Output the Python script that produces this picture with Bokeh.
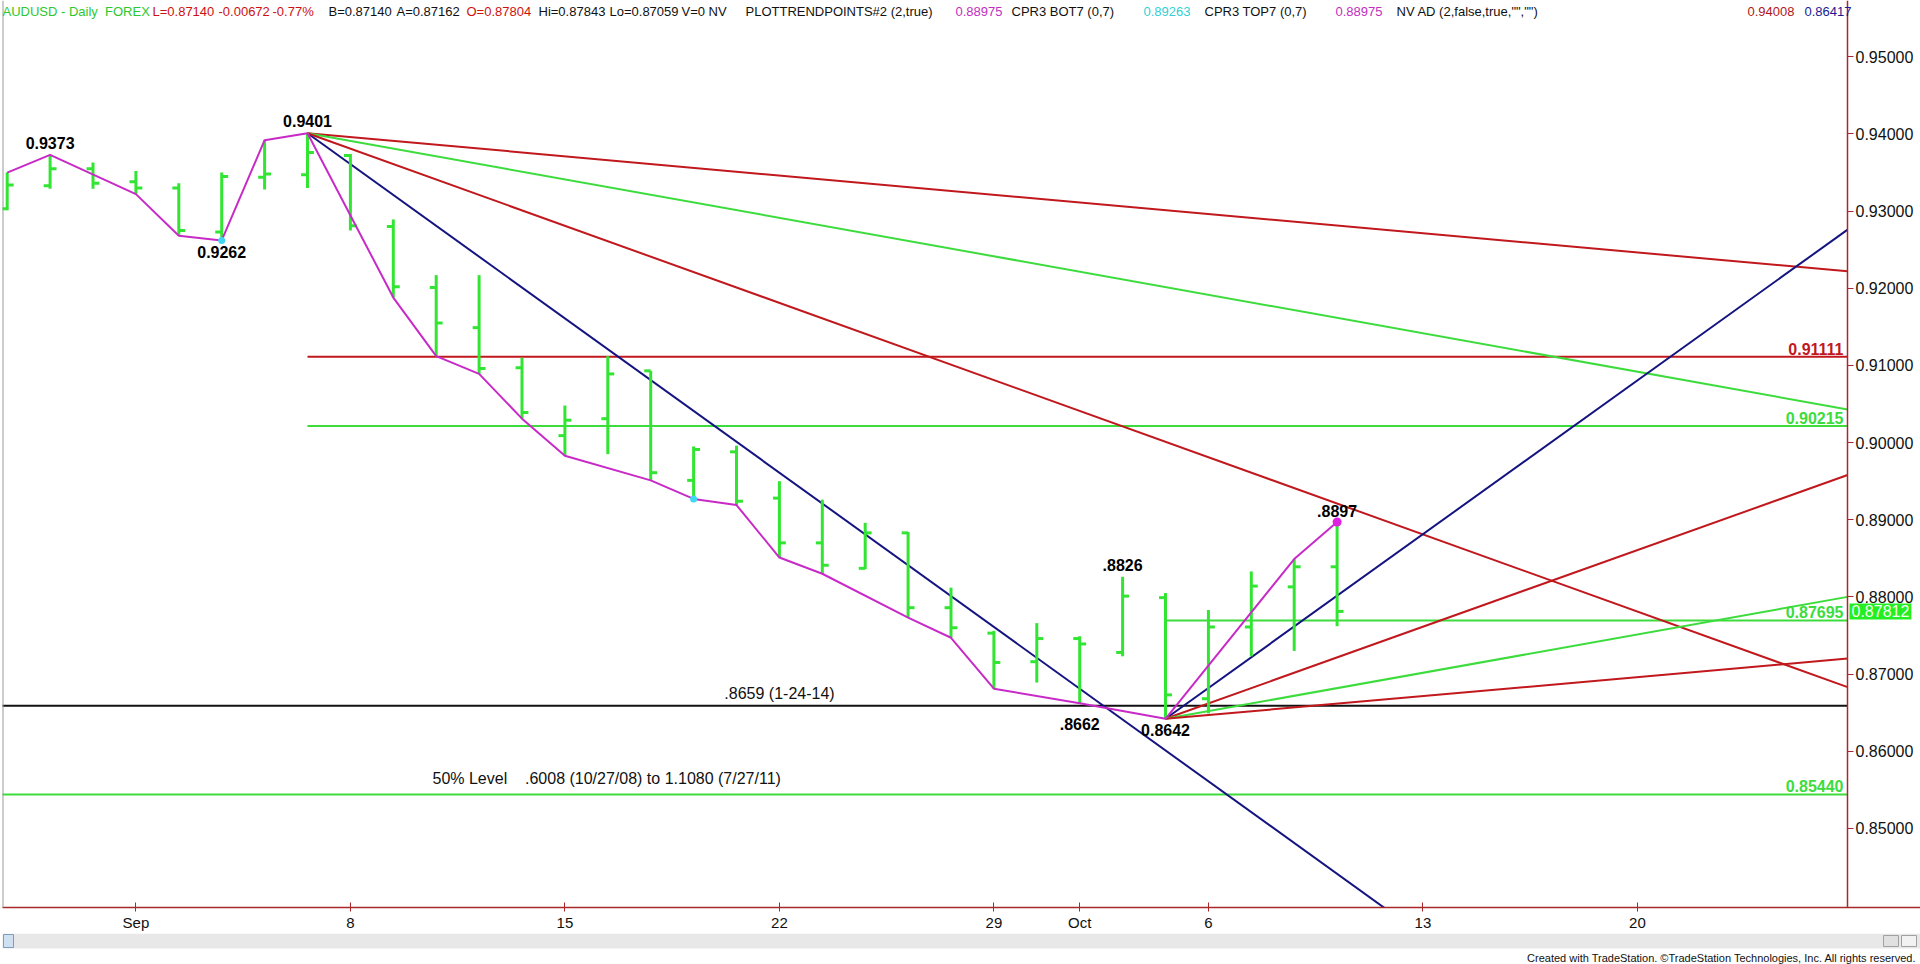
from bokeh.plotting import figure
from bokeh.layouts import column
from bokeh.models import Range1d, FixedTicker, NumeralTickFormatter, Label, Span
from bokeh.core.properties import value
from bokeh.embed import file_html
from bokeh.resources import INLINE

# ---------------- data ----------------
bar_idx = list(range(32))   # Aug 27 .. Oct 9 (trading days)
opens = [0.9303, 0.9333, 0.9355, 0.9338, 0.9330, 0.9273, 0.9344, 0.9347,
         0.9372, 0.9280, 0.9201, 0.9149, 0.9097, 0.9009, 0.9031, 0.9093,
         0.8951, 0.8988, 0.8928, 0.8870, 0.8837, 0.8883, 0.8786, 0.8753,
         0.8716, 0.8746, 0.8728, 0.8799, 0.8668, 0.8761, 0.8813, 0.8839]
highs = [0.9350, 0.9373, 0.9363, 0.9352, 0.9336, 0.9350, 0.9392, 0.9401,
         0.9374, 0.9289, 0.9217, 0.9217, 0.9110, 0.9048, 0.9112, 0.9093,
         0.8995, 0.8996, 0.8950, 0.8926, 0.8896, 0.8884, 0.8812, 0.8756,
         0.8766, 0.8749, 0.8826, 0.8805, 0.8783, 0.8833, 0.8849, 0.8897]
lows = [0.9301, 0.9329, 0.9329, 0.9322, 0.9268, 0.9262, 0.9328, 0.9330,
        0.9275, 0.9188, 0.9112, 0.9089, 0.9031, 0.8983, 0.8985, 0.8951,
        0.8927, 0.8919, 0.8851, 0.8830, 0.8836, 0.8773, 0.8747, 0.8681,
        0.8689, 0.8662, 0.8723, 0.8642, 0.8649, 0.8723, 0.8730, 0.8762]
closes = [0.9334, 0.9355, 0.9336, 0.9330, 0.9275, 0.9345, 0.9348, 0.9376,
          0.9281, 0.9202, 0.9155, 0.9096, 0.9039, 0.9029, 0.9089, 0.8961,
          0.8991, 0.8924, 0.8870, 0.8841, 0.8883, 0.8786, 0.8760, 0.8715,
          0.8746, 0.8739, 0.8801, 0.8673, 0.8761, 0.8814, 0.8839, 0.87812]

# swing points (PLOTTRENDPOINTS)
pivot_idx = [0, 1, 3, 4, 5, 6, 7, 9, 10, 11, 12, 13, 15, 16, 17, 18, 19,
             21, 22, 23, 25, 27, 30, 31]
pivot_px = [0.9350, 0.9373, 0.9322, 0.9268, 0.9262, 0.9392, 0.9401, 0.9188,
            0.9112, 0.9089, 0.9031, 0.8983, 0.8951, 0.8927, 0.8919, 0.8851,
            0.8830, 0.8773, 0.8747, 0.8681, 0.8662, 0.8642, 0.8849, 0.8897]
cyan_idx = [5, 16]
cyan_px = [0.9262, 0.8927]
mag_idx = [31]
mag_px = [0.8897]

# Gann fan lines: start bar, start price, end bar, end price, colour
fan_x0 = [7, 7, 7, 7, 27, 27, 27, 27]
fan_y0 = [0.9401, 0.9401, 0.9401, 0.9401, 0.8642, 0.8642, 0.8642, 0.8642]
fan_x1 = [33.0, 42.9, 42.9, 42.9, 42.9, 42.9, 42.9, 42.9]
fan_y1 = [0.8361, 0.9222, 0.9043, 0.8683, 0.9276, 0.8958, 0.8800, 0.8720]
fan_col = ["navy", "red", "green", "red", "navy", "red", "green", "red"]

# horizontal levels
lvl_price = [0.91111, 0.90215, 0.87695, 0.8659, 0.8544]
lvl_start = [7, 7, 27, -1, -1]
lvl_col = ["red", "green", "green", "black", "green"]
lvl_text = ["0.91111", "0.90215", "0.87695", "", "0.85440"]

# pivot annotations
ann_text = ["0.9373", "0.9401", "0.9262", ".8826", ".8662", "0.8642", ".8897"]
ann_bar = [1, 7, 5, 26, 25, 27, 31]

x_tick_pos = [3, 8, 13, 18, 23, 25, 28, 33, 38]
x_tick_lab = ["Sep", "8", "15", "22", "29", "Oct", "6", "13", "20"]
y_ticks = [0.85, 0.86, 0.87, 0.88, 0.89, 0.90, 0.91, 0.92, 0.93, 0.94, 0.95]
last_close = 0.87812

# ---------------- styling / geometry ----------------
COL = {"red": "#c0181c", "green": "#3ddc3d", "navy": "#141480", "black": "#111111"}
BAR_COL = "#33e533"
AX_COL = "#a8282c"
ARIAL = "Liberation Sans"
NB = "\u00a0"

W, H_MAIN, H_STRIP = 1920, 933, 31
FL, FT, FB = 2, 0, 907          # frame edges in figure pixels (frame runs to W)
AXIS_PX = 1847                   # price scale line
PXB = 42.9                       # pixels per bar
BAR0_PX = 6.7                    # pixel of bar 0
X0 = (FL - BAR0_PX) / PXB
X1 = (W - BAR0_PX) / PXB
XR = (AXIS_PX - BAR0_PX) / PXB   # right end of the chart area (price scale)
Y0, Y1 = 0.83974, 0.95730


def px_x(px):
    return (px - BAR0_PX) / PXB


def px_y(py):
    return Y1 - (py - FT) / (FB - FT) * (Y1 - Y0)


PX_PER_PRICE = (FB - FT) / (Y1 - Y0)

p = figure(width=W, height=H_MAIN, x_range=Range1d(X0, X1), y_range=Range1d(Y0, Y1),
           y_axis_location="right", toolbar_location=None, output_backend="svg",
           min_border_left=FL, min_border_right=0,
           min_border_top=FT, min_border_bottom=H_MAIN - FB,
           background_fill_color="white", border_fill_color="white")
p.xgrid.visible = False
p.ygrid.visible = False
p.outline_line_color = None
p.add_layout(Span(location=X0, dimension="height", line_color="#9a9a9a", line_width=2))

# price axis drawn at the chart's right edge
ya = p.yaxis[0]
ya.fixed_location = XR
ya.ticker = FixedTicker(ticks=y_ticks)
ya.formatter = NumeralTickFormatter(format="0.00000")
ya.major_label_text_font = ARIAL
ya.major_label_text_font_size = "16px"
ya.major_label_text_color = "#111111"
ya.axis_line_color = AX_COL
ya.axis_line_width = 1.5
ya.major_tick_line_color = AX_COL
ya.major_tick_out = 6
ya.major_tick_in = 0
ya.minor_tick_line_color = None
ya.major_label_standoff = 2

xa = p.xaxis[0]
xa.ticker = FixedTicker(ticks=x_tick_pos)
xa.major_label_overrides = {t: l for t, l in zip(x_tick_pos, x_tick_lab)}
xa.major_label_text_font = ARIAL
xa.major_label_text_font_size = "15px"
xa.major_label_text_color = "#111111"
xa.axis_line_color = AX_COL
xa.axis_line_width = 1.5
xa.major_tick_line_color = AX_COL
xa.major_tick_out = 4
xa.major_tick_in = 5
xa.minor_tick_line_color = None
xa.major_label_standoff = 2

# horizontal levels
for pr, st, c in zip(lvl_price, lvl_start, lvl_col):
    p.segment(x0=[st], y0=[pr], x1=[XR], y1=[pr], line_color=COL[c], line_width=2)

# fan lines
for a, b, c, d, col in zip(fan_x0, fan_y0, fan_x1, fan_y1, fan_col):
    p.segment(x0=[a], y0=[b], x1=[c], y1=[d], line_color=COL[col], line_width=2)

# OHLC bars
TK = 0.15
p.segment(x0=bar_idx, y0=lows, x1=bar_idx, y1=highs, line_color=BAR_COL, line_width=3)
p.segment(x0=[i - TK for i in bar_idx], y0=opens, x1=bar_idx, y1=opens,
          line_color=BAR_COL, line_width=3)
p.segment(x0=bar_idx, y0=closes, x1=[i + TK for i in bar_idx], y1=closes,
          line_color=BAR_COL, line_width=3)

# swing line
p.line(pivot_idx, pivot_px, line_color="#c82ac8", line_width=2)
p.scatter(cyan_idx, cyan_px, size=7, fill_color="#40d8f0", line_color=None)
p.scatter(mag_idx, mag_px, size=9, fill_color="#e020e0", line_color=None)

# level labels
for pr, c, t in zip(lvl_price, lvl_col, lvl_text):
    if t:
        p.add_layout(Label(x=px_x(1843), y=pr, text=t, text_align="right",
                           text_baseline="bottom", y_offset=2, text_color=COL[c],
                           text_font=ARIAL, text_font_size="16px",
                           text_font_style="bold"))

# pivot annotations (screen offsets relative to the bar's high/low)
ann_pos = {"0.9373": ("high", 12), "0.9401": ("high", 12), "0.9262": ("low", -12),
           ".8826": ("high", 12), ".8662": ("low", -21), "0.8642": ("low", -11),
           ".8897": ("high", 11)}
for t, b in zip(ann_text, ann_bar):
    kind, off = ann_pos[t]
    base = highs[b] if kind == "high" else lows[b]
    p.add_layout(Label(x=b, y=base + off / PX_PER_PRICE, text=t, text_align="center",
                       text_baseline="middle", text_color="#000000",
                       text_font=ARIAL, text_font_size="16px", text_font_style="bold"))

p.add_layout(Label(x=px_x(779), y=px_y(693), text=".8659 (1-24-14)", text_align="center",
                   text_baseline="middle", text_color="#111111", text_font=ARIAL,
                   text_font_size="16px"))
p.add_layout(Label(x=px_x(432), y=px_y(778),
                   text="50% Level" + NB * 4 + ".6008 (10/27/08) to 1.1080 (7/27/11)",
                   text_align="left", text_baseline="middle", text_color="#111111",
                   text_font=ARIAL, text_font_size="16px"))

# header
hdr = [("AUDUSD - Daily" + NB * 2 + "FOREX", 2, "#2ec82e"),
       ("L=0.87140", 152, "#cc1111"),
       ("-0.00672", 218, "#cc1111"),
       ("-0.77%", 272, "#cc1111"),
       ("B=0.87140", 328, "#111111"),
       ("A=0.87162", 396, "#111111"),
       ("O=0.87804", 466, "#cc1111"),
       ("Hi=0.87843", 538, "#111111"),
       ("Lo=0.87059", 609, "#111111"),
       ("V=0", 681, "#111111"),
       ("NV", 708, "#111111"),
       ("PLOTTRENDPOINTS#2 (2,true)", 745, "#111111"),
       ("0.88975", 955, "#c030c0"),
       ("CPR3 BOT7 (0,7)", 1011, "#111111"),
       ("0.89263", 1143, "#30d0d8"),
       ("CPR3 TOP7 (0,7)", 1204, "#111111"),
       ("0.88975", 1335, "#c030c0"),
       ('NV AD (2,false,true,"","")', 1396, "#111111"),
       ("0.94008", 1747, "#b01818"),
       ("0.86417", 1804, "#1a1a90")]
for t, xp, c in hdr:
    p.add_layout(Label(x=px_x(xp), y=px_y(11), text=t, text_align="left",
                       text_baseline="middle", text_color=c, text_font=ARIAL,
                       text_font_size="13px"))

# last price marker on the price scale
mk = Label(x=px_x(1849), y=last_close, text="0.87812", text_align="left",
           text_baseline="middle", text_color="#f4fff4", text_font=ARIAL,
           text_font_size="16px", background_fill_color="#22ee22")
if "padding" in mk.properties():
    mk.padding = 2
p.add_layout(mk)

# ---------------- scroll strip + footer ----------------
s = figure(width=W, height=H_STRIP, x_range=Range1d(FL, W), y_range=Range1d(0, H_STRIP),
           x_axis_location=None, y_axis_location=None, toolbar_location=None,
           output_backend="svg", min_border_left=FL, min_border_right=0,
           min_border_top=0, min_border_bottom=0, outline_line_color=None,
           background_fill_color="white", border_fill_color="white")
s.grid.visible = False
s.quad(left=[0], right=[W], bottom=[16], top=[31], fill_color="#e8e8e8", line_color=None)
s.quad(left=[3], right=[13], bottom=[17], top=[30], fill_color="#cfe0f2", line_color="#7f9db9")
s.quad(left=[1883], right=[1898], bottom=[18], top=[29], fill_color="#e0e0e0", line_color="#a0a0a0")
s.quad(left=[1901], right=[1916], bottom=[18], top=[29], fill_color="#f2f2f2", line_color="#a0a0a0")
s.text(x=[1916], y=[7], text=["Created with TradeStation. \u00a9TradeStation Technologies, Inc. All rights reserved."],
       text_align="right", text_baseline="middle", text_color="#111111",
       text_font=value(ARIAL), text_font_size="11px")

layout = column(p, s, spacing=0)
open("out.html", "w").write(file_html(layout, INLINE))
